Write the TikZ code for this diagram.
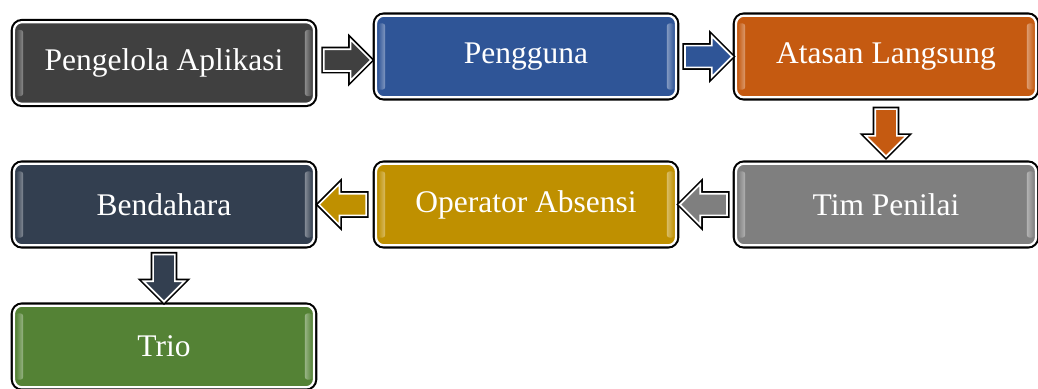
\documentclass[tikz,border=0pt]{standalone}
\usepackage{fontspec}
\setmainfont{Liberation Serif}
\usetikzlibrary{shapes.arrows,calc}

\definecolor{pengelolacol}{HTML}{404040}
\definecolor{penggunacol}{HTML}{2F5597}
\definecolor{atasancol}{HTML}{C55A11}
\definecolor{timcol}{HTML}{7F7F7F}
\definecolor{operatorcol}{HTML}{BF9000}
\definecolor{bendaharacol}{HTML}{333F50}
\definecolor{triocol}{HTML}{548235}

\tikzset{
  box/.style={rounded corners=0.2cm, minimum width=7.5cm, minimum height=2.04cm,
    draw=white, line width=1.6pt, preaction={draw=black, line width=4.6pt},
    text=white, font=\fontsize{22.4}{26}\selectfont},
  flow/.style={single arrow, minimum height=1.18cm, minimum width=0.98cm,
    single arrow head extend=0.24cm, inner xsep=0pt, inner ysep=0.25cm,
    draw=white, line width=1.2pt, preaction={draw=black, line width=3.6pt}}
}

\begin{document}
\begin{tikzpicture}[x=0.025cm,y=-0.025cm]
\useasboundingbox (0,0) rectangle (1038,388);

% kotak
\node[box, fill=pengelolacol] (pengelola) at (164,63) {Pengelola Aplikasi};
\node[box, fill=penggunacol] (pengguna) at (526,56.5) {Pengguna};
\node[box, fill=atasancol] (atasan) at (886,56.5) {Atasan Langsung};
\node[box, fill=timcol] (tim) at (886,204.5) {Tim Penilai};
\node[box, fill=operatorcol] (operator) at (526,204.5) {Operator Absensi};
\node[box, fill=bendaharacol] (bendahara) at (164,204.5) {Bendahara};
\node[box, fill=triocol] (trio) at (164,346.5) {Trio};

% kilau di sisi kiri dan kanan
\foreach \n/\c in {pengelola/pengelolacol,pengguna/penggunacol,atasan/atasancol,
    tim/timcol,operator/operatorcol,bendahara/bendaharacol,trio/triocol}{
  \shade[left color=\c, right color=\c!60!white, rounded corners=2pt]
    ([xshift=0.07cm,yshift=-0.22cm]\n.north west) rectangle ([xshift=0.26cm,yshift=0.22cm]\n.south west);
  \shade[right color=\c, left color=\c!60!white, rounded corners=2pt]
    ([xshift=-0.26cm,yshift=-0.22cm]\n.north east) rectangle ([xshift=-0.07cm,yshift=0.22cm]\n.south east);
}

% panah
\node[flow, fill=pengelolacol] at ($(pengelola.east)!0.45!(pengguna.west)$) {};
\node[flow, fill=penggunacol] at ($(pengguna.east)!0.45!(atasan.west)$) {};
\node[flow, fill=atasancol, rotate=-90] at ($(atasan.south)!0.45!(tim.north)$) {};
\node[flow, fill=timcol, rotate=180] at ($(tim.west)!0.45!(operator.east)$) {};
\node[flow, fill=operatorcol, rotate=180] at ($(operator.west)!0.45!(bendahara.east)$) {};
\node[flow, fill=bendaharacol, rotate=-90] at ($(bendahara.south)!0.45!(trio.north)$) {};
\end{tikzpicture}
\end{document}
